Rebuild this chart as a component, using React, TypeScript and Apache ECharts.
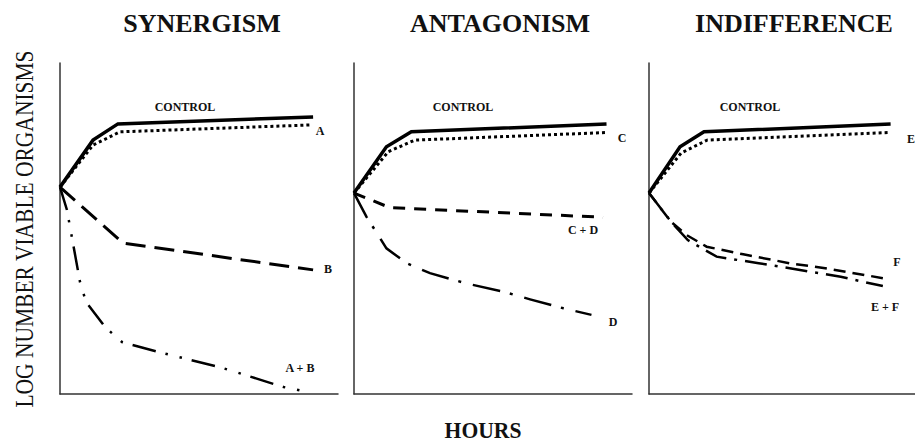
import React, { useEffect, useRef } from "react";
import * as echarts from "echarts";

// Hours (x) and log number of viable organisms (y)
const synControl: number[][] = [[0, 6.25], [2.85, 7.67], [5.0, 8.16], [21.85, 8.37]];
const synA: number[][] = [[0, 6.25], [2.85, 7.52], [5.18, 7.92], [21.76, 8.13]];
const synB: number[][] = [[0, 6.25], [5.44, 4.56], [21.85, 3.75]];
const synAB: number[][] = [[0, 6.25], [0.6, 5.56], [1.73, 3.38], [2.25, 2.78], [3.9, 2.02], [5.35, 1.57], [8.5, 1.27], [14, 0.79], [19.3, 0.21], [21.4, 0.06]];

const antControl: number[][] = [[0, 6.07], [2.8, 7.47], [4.95, 7.92], [21.8, 8.16]];
const antC: number[][] = [[0, 6.07], [2.96, 7.32], [5.24, 7.67], [21.8, 7.9]];
const antCD: number[][] = [[0, 6.07], [3.1, 5.63], [21.5, 5.34]];
const antD: number[][] = [[0, 6.07], [1.07, 5.36], [2.8, 4.4], [4.55, 3.95], [6.56, 3.65], [9.7, 3.34], [12.9, 3.09], [15.2, 2.86], [18.07, 2.59], [20.5, 2.39]];

const indControl: number[][] = [[0, 6.07], [2.8, 7.47], [4.96, 7.92], [21.8, 8.16]];
const indE: number[][] = [[0, 6.07], [2.9, 7.28], [5.24, 7.67], [21.6, 7.9]];
const indF: number[][] = [[0, 6.07], [2.0, 5.2], [3.4, 4.8], [5.2, 4.45], [8.5, 4.22], [12.7, 3.95], [15.9, 3.8], [21.1, 3.5]];
const indEF: number[][] = [[0, 6.07], [2.0, 5.2], [3.5, 4.65], [6.1, 4.15], [9.9, 3.95], [12.7, 3.8], [17.3, 3.54], [21.1, 3.26]];

const panelTitles = ["SYNERGISM", "ANTAGONISM", "INDIFFERENCE"];
const yAxisTitle = "LOG NUMBER VIABLE ORGANISMS";
const xAxisTitle = "HOURS";

const SERIF = "'Liberation Serif', 'Times New Roman', serif";

export default function App() {
  const ref = useRef<HTMLDivElement>(null);
  useEffect(() => {
    document.body.style.margin = "0";
    const chart = echarts.init(ref.current!, undefined, { renderer: "svg" });
    const lefts = [60, 354, 649];
    const grids = lefts.map((l) => ({ left: l, top: 63, width: 278, height: 331 }));
    const axisLine = { show: true, lineStyle: { color: "#333", width: 1.5 } };
    const xAxes = lefts.map((_, i) => ({
      type: "value", gridIndex: i, min: 0, max: 24,
      axisLine, axisTick: { show: false }, axisLabel: { show: false }, splitLine: { show: false },
    }));
    const yAxes = lefts.map((_, i) => ({
      type: "value", gridIndex: i, min: 0, max: 10,
      axisLine, axisTick: { show: false }, axisLabel: { show: false }, splitLine: { show: false },
    }));
    const mk = (name: string, data: number[][], idx: number, width: number, type: any) => ({
      name, type: "line", data, xAxisIndex: idx, yAxisIndex: idx,
      symbol: "none", silent: true,
      lineStyle: { color: "#000", width, type, cap: "butt", join: "miter" },
      z: name === "control" ? 3 : 2,
    });
    const dotted = [3, 3];
    const series = [
      mk("control", synControl, 0, 3.5, "solid"),
      mk("A", synA, 0, 3, dotted),
      mk("B", synB, 0, 3, [20, 9]),
      mk("A + B", synAB, 0, 2.5, [24, 10, 2.5, 12, 2.5, 10]),
      mk("control", antControl, 1, 3.5, "solid"),
      mk("C", antC, 1, 3, dotted),
      mk("C + D", antCD, 1, 3, [12, 9]),
      mk("D", antD, 1, 2.5, [28, 10, 3, 12]),
      mk("control", indControl, 2, 3.5, "solid"),
      mk("E", indE, 2, 3, dotted),
      mk("F", indF, 2, 2.5, [12, 7]),
      mk("E + F", indEF, 2, 2.5, [22, 8, 3, 8]),
    ];
    const txt = (text: string, x: number, y: number, size: number, bold = true, extra: any = {}) => ({
      type: "text", x, y, silent: true, ...extra,
      style: {
        text, fontSize: size, fontFamily: SERIF, fontWeight: bold ? "bold" : "normal",
        fill: "#111", textAlign: "center", textVerticalAlign: "middle",
      },
    });
    const graphic = [
      txt(panelTitles[0], 202, 23, 26),
      txt(panelTitles[1], 500, 23, 26),
      txt(panelTitles[2], 794, 23, 26),
      txt(yAxisTitle, 24, 229, 25, false, { rotation: Math.PI / 2, scaleX: 0.86 }),
      txt(xAxisTitle, 483, 430, 24, true, { scaleX: 0.9 }),
      txt("CONTROL", 185, 107, 12),
      txt("CONTROL", 463, 107, 12),
      txt("CONTROL", 750, 107, 12),
      txt("A", 320, 131, 12),
      txt("B", 328, 269, 12),
      txt("A + B", 300, 368, 12),
      txt("C", 622, 138, 12),
      txt("C + D", 583, 230, 12),
      txt("D", 613, 322, 12),
      txt("E", 911, 139, 12),
      txt("F", 897, 262, 12),
      txt("E + F", 885, 307, 12),
    ];
    chart.setOption({
      animation: false,
      backgroundColor: "#fff",
      grid: grids,
      xAxis: xAxes,
      yAxis: yAxes,
      series,
      graphic,
    });
    return () => chart.dispose();
  }, []);
  return <div ref={ref} style={{ width: 915, height: 445 }} />;
}
